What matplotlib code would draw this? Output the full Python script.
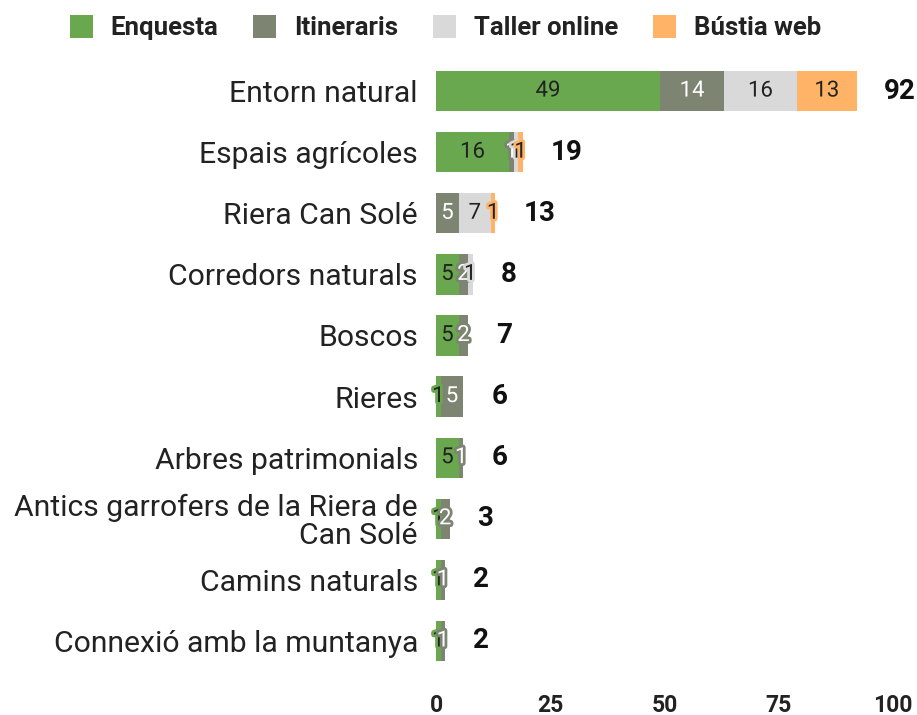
import matplotlib
matplotlib.use("Agg")
import matplotlib.pyplot as plt
import matplotlib.patheffects as pe
from matplotlib.patches import Patch
import numpy as np

plt.rcParams['font.family'] = ['Roboto', 'DejaVu Sans']

categories = ["Entorn natural", "Espais agrícoles", "Riera Can Solé", "Corredors naturals",
              "Boscos", "Rieres", "Arbres patrimonials",
              "Antics garrofers de la Riera de\nCan Solé", "Camins naturals",
              "Connexió amb la muntanya"]
series_names = ["Enquesta", "Itineraris", "Taller online", "Bústia web"]
enquesta = [49, 16, 0, 5, 5, 1, 5, 1, 1, 1]
itineraris = [14, 1, 5, 2, 2, 5, 1, 2, 1, 1]
taller = [16, 1, 7, 1, 0, 0, 0, 0, 0, 0]
bustia = [13, 1, 1, 0, 0, 0, 0, 0, 0, 0]
xticks = [0, 25, 50, 75, 100]

colors = ["#6aa84f", "#7d8471", "#d9d9d9", "#ffb366"]
text_colors = ["#222222", "white", "#222222", "#222222"]

fig = plt.figure(figsize=(9.17, 7.15), dpi=100)
ax = fig.add_axes([0.4755, 0.0608, 0.4984, 0.8546])

y = np.arange(len(categories))
left = np.zeros(len(categories))
series = [enquesta, itineraris, taller, bustia]
for vals, col, tcol in zip(series, colors, text_colors):
    vals = np.array(vals, dtype=float)
    ax.barh(y, vals, left=left, height=0.66, color=col, edgecolor='none')
    for yi, v, l in zip(y, vals, left):
        if v > 0:
            ax.text(l + v / 2, yi, f"{int(v)}", ha='center', va='center',
                    fontsize=16, color=tcol,
                    path_effects=[pe.withStroke(linewidth=4, foreground=col)])
    left += vals

for yi, tot in zip(y, left):
    ax.annotate(f"{int(tot)}", xy=(tot, yi), xytext=(20, 0), textcoords='offset points',
                ha='left', va='center', fontsize=20, fontweight='bold', color='#111111')

ax.set_xlim(0, 100)
ax.set_ylim(len(categories) - 0.5, -0.5)
ax.set_yticks(y)
ax.set_yticklabels(categories, fontsize=21.7, color='#222222', linespacing=1.0)
ax.set_xticks(xticks)
ax.set_xticklabels([str(t) for t in xticks], fontsize=16.5, fontweight='bold', color='#222222')
ax.tick_params(axis='y', length=0, pad=13)
ax.tick_params(axis='x', length=0, pad=16)
for s in ax.spines.values():
    s.set_visible(False)

handles = [Patch(facecolor=c, edgecolor='none', label=n) for c, n in zip(colors, series_names)]
leg = fig.legend(handles=handles, loc='upper center', bbox_to_anchor=(0.486, 1.012), ncol=4,
                 frameon=False, handlelength=0.9, handleheight=1.0, columnspacing=1.35,
                 handletextpad=0.7, prop={'size': 18.5, 'weight': 'bold'})
for t in leg.get_texts():
    t.set_color('#222222')

fig.savefig("out.png", dpi=100)
